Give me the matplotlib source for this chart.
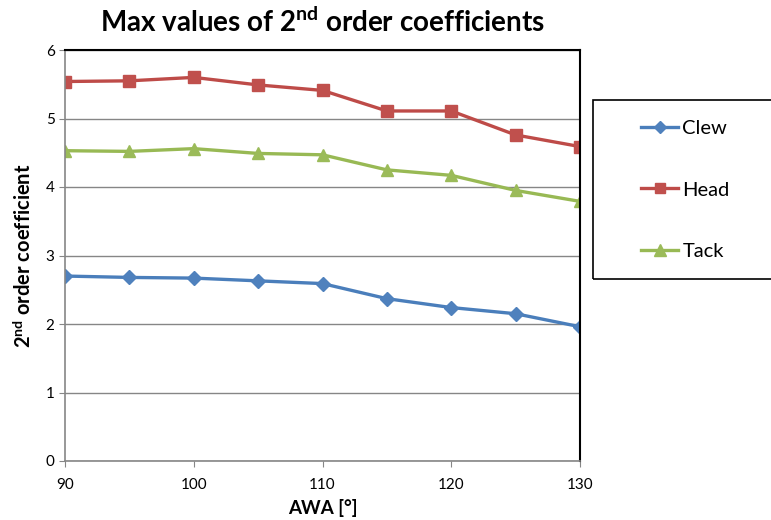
import matplotlib.pyplot as plt
from matplotlib.patches import Rectangle

# Data
awa = [90, 95, 100, 105, 110, 115, 120, 125, 130]
clew = [2.70, 2.68, 2.67, 2.63, 2.59, 2.37, 2.24, 2.15, 1.96]
head = [5.54, 5.55, 5.60, 5.49, 5.41, 5.11, 5.11, 4.76, 4.59]
tack = [4.53, 4.52, 4.56, 4.49, 4.47, 4.25, 4.17, 3.95, 3.79]
x_ticks = [90, 100, 110, 120, 130]
y_ticks = [0, 1, 2, 3, 4, 5, 6]

plt.rcParams['font.family'] = ['Lato', 'DejaVu Sans']
plt.rcParams['mathtext.fontset'] = 'custom'
plt.rcParams['mathtext.rm'] = 'Lato'
plt.rcParams['mathtext.bf'] = 'Lato:bold'

W, H = 771, 520
fig = plt.figure(figsize=(W / 100, H / 100), dpi=100)
ax = fig.add_axes([65 / W, 59 / H, 515 / W, 411 / H])

ax.plot(awa, clew, color='#4A7EBB', lw=2.4, marker='D', ms=7,
        mfc='#4F81BD', mec='#4F81BD', label='Clew')
ax.plot(awa, head, color='#BE4B48', lw=2.4, marker='s', ms=8.5,
        mfc='#C0504D', mec='#C0504D', label='Head')
ax.plot(awa, tack, color='#98B954', lw=2.4, marker='^', ms=9,
        mfc='#9BBB59', mec='#9BBB59', label='Tack')

ax.set_xlim(90, 130)
ax.set_ylim(0, 6)
ax.set_xticks(x_ticks)
ax.set_yticks(y_ticks)
ax.tick_params(axis='both', labelsize=11, color='#868686', length=4, direction='out')
ax.tick_params(axis='x', pad=8)
ax.grid(axis='y', color='#868686', lw=1)
ax.set_axisbelow(True)
for s in ['left', 'bottom']:
    ax.spines[s].set_color('#868686')
    ax.spines[s].set_linewidth(1.2)
for s in ['top', 'right']:
    ax.spines[s].set_color('black')
    ax.spines[s].set_linewidth(1.5)

ax.set_title(r'Max values of 2$^{\mathbf{nd}}$ order coefficients',
             fontsize=20, fontweight='bold', pad=13)
ax.set_xlabel('AWA [°]', fontsize=13.5, fontweight='bold', labelpad=5)
ax.set_ylabel(r'2$^{\mathbf{nd}}$ order coefficient', fontsize=14.5,
              fontweight='bold', labelpad=8)

# legend box (Excel style, running off the right edge)
fig.patches.append(Rectangle((593 / W, 1 - 279 / H), 190 / W, 179 / H,
                             transform=fig.transFigure, fill=False,
                             edgecolor='black', lw=1.2))
leg = fig.legend(loc='upper left', bbox_to_anchor=(641 / W, 1 - 120 / H),
                 fontsize=14.5, frameon=False, handlelength=1.85,
                 handletextpad=0.2, labelspacing=2.2, borderpad=0,
                 borderaxespad=0, markerscale=0.9)

fig.savefig('out.png', dpi=100)
